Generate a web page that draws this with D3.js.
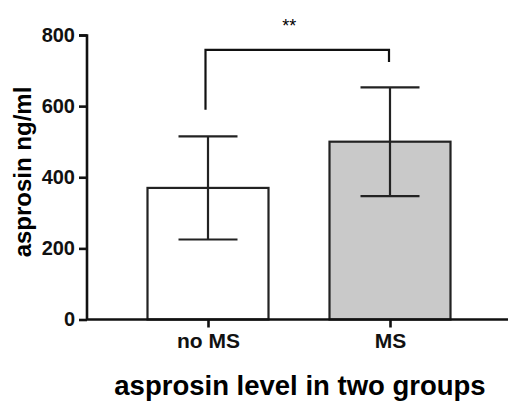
<!DOCTYPE html>
<html>
<head>
<meta charset="utf-8">
<script src="https://cdn.jsdelivr.net/npm/d3@7"></script>
<style>
  body { margin: 0; background: #fff; }
  text { font-family: "Liberation Sans", Arial, sans-serif; }
</style>
</head>
<body>
<svg id="chart" width="508" height="404"></svg>
<script>
var groups = ["no MS", "MS"];
var means = [370, 500];
var sds = [145, 153];
var fills = ["#ffffff", "#c9c9c9"];
var yTicks = [0, 200, 400, 600, 800];
// significance bracket: [left end, bar height, right end]
var bracket = [590, 758, 724];

var svg = d3.select("#chart"),
    margin = {top: 35, right: 0, bottom: 85, left: 87},
    width = +svg.attr("width") - margin.left - margin.right,
    height = +svg.attr("height") - margin.top - margin.bottom;

var x = d3.scalePoint()
    .domain(groups)
    .range([121, 303]);

var y = d3.scaleLinear()
    .domain([0, 800])
    .range([height + 0.5, 0]);

var g = svg.append("g")
    .attr("transform", "translate(" + margin.left + "," + margin.top + ")");

var barW = 121;

g.selectAll("rect.bar")
    .data(groups)
  .enter().append("rect")
    .attr("class", "bar")
    .attr("x", function(d) { return x(d) - barW / 2; })
    .attr("y", function(d, i) { return y(means[i]); })
    .attr("width", barW)
    .attr("height", function(d, i) { return y(0) - y(means[i]); })
    .attr("fill", function(d, i) { return fills[i]; })
    .attr("stroke", "#222")
    .attr("stroke-width", 2.2);

// error bars
var capW = 59;
groups.forEach(function(d, i) {
  var cx = x(d);
  g.append("line")
      .attr("x1", cx).attr("x2", cx)
      .attr("y1", y(means[i] - sds[i])).attr("y2", y(means[i] + sds[i]))
      .attr("stroke", "#222").attr("stroke-width", 2.2);
  [means[i] - sds[i], means[i] + sds[i]].forEach(function(v) {
    g.append("line")
        .attr("x1", cx - capW / 2).attr("x2", cx + capW / 2)
        .attr("y1", y(v)).attr("y2", y(v))
        .attr("stroke", "#222").attr("stroke-width", 2.2);
  });
});

// bracket
var bx1 = x(groups[0]) - 2.5, bx2 = x(groups[1]) - 1;
g.append("path")
    .attr("d", "M" + bx1 + "," + y(bracket[0]) +
               "V" + y(bracket[1]) +
               "H" + bx2 +
               "V" + y(bracket[2]))
    .attr("fill", "none")
    .attr("stroke", "#111")
    .attr("stroke-width", 2.2);

g.append("text")
    .attr("x", (bx1 + bx2) / 2 - 8)
    .attr("y", y(bracket[1]) - 18)
    .attr("text-anchor", "middle")
    .style("font-size", "18px")
    .text("**");

// axes
var yAxis = g.append("g")
    .call(d3.axisLeft(y).tickValues(yTicks).tickSize(8).tickPadding(4).tickFormat(d3.format("d")));
var xAxis = g.append("g")
    .attr("transform", "translate(0," + y(0) + ")")
    .call(d3.axisBottom(x).tickSize(8).tickPadding(6));
xAxis.select(".domain").attr("d", "M0,0H" + width);
[yAxis, xAxis].forEach(function(a) {
  a.selectAll(".domain, line").attr("stroke", "#111").attr("stroke-width", 2.6);
  a.selectAll("text").attr("fill", "#111").style("font-weight", "bold");
});
yAxis.selectAll("text").style("font-size", "20px");
xAxis.selectAll("text").style("font-size", "21px");
yAxis.select(".domain").attr("d", "M-8,0.5H0V" + y(0));

// titles
svg.append("text")
    .attr("transform", "translate(31,172) rotate(-90)")
    .attr("text-anchor", "middle")
    .style("font-size", "24px").style("font-weight", "bold")
    .text("asprosin ng/ml");

svg.append("text")
    .attr("x", 300)
    .attr("y", 395)
    .attr("text-anchor", "middle")
    .style("font-size", "27.5px").style("font-weight", "bold")
    .text("asprosin level in two groups");
</script>
</body>
</html>
